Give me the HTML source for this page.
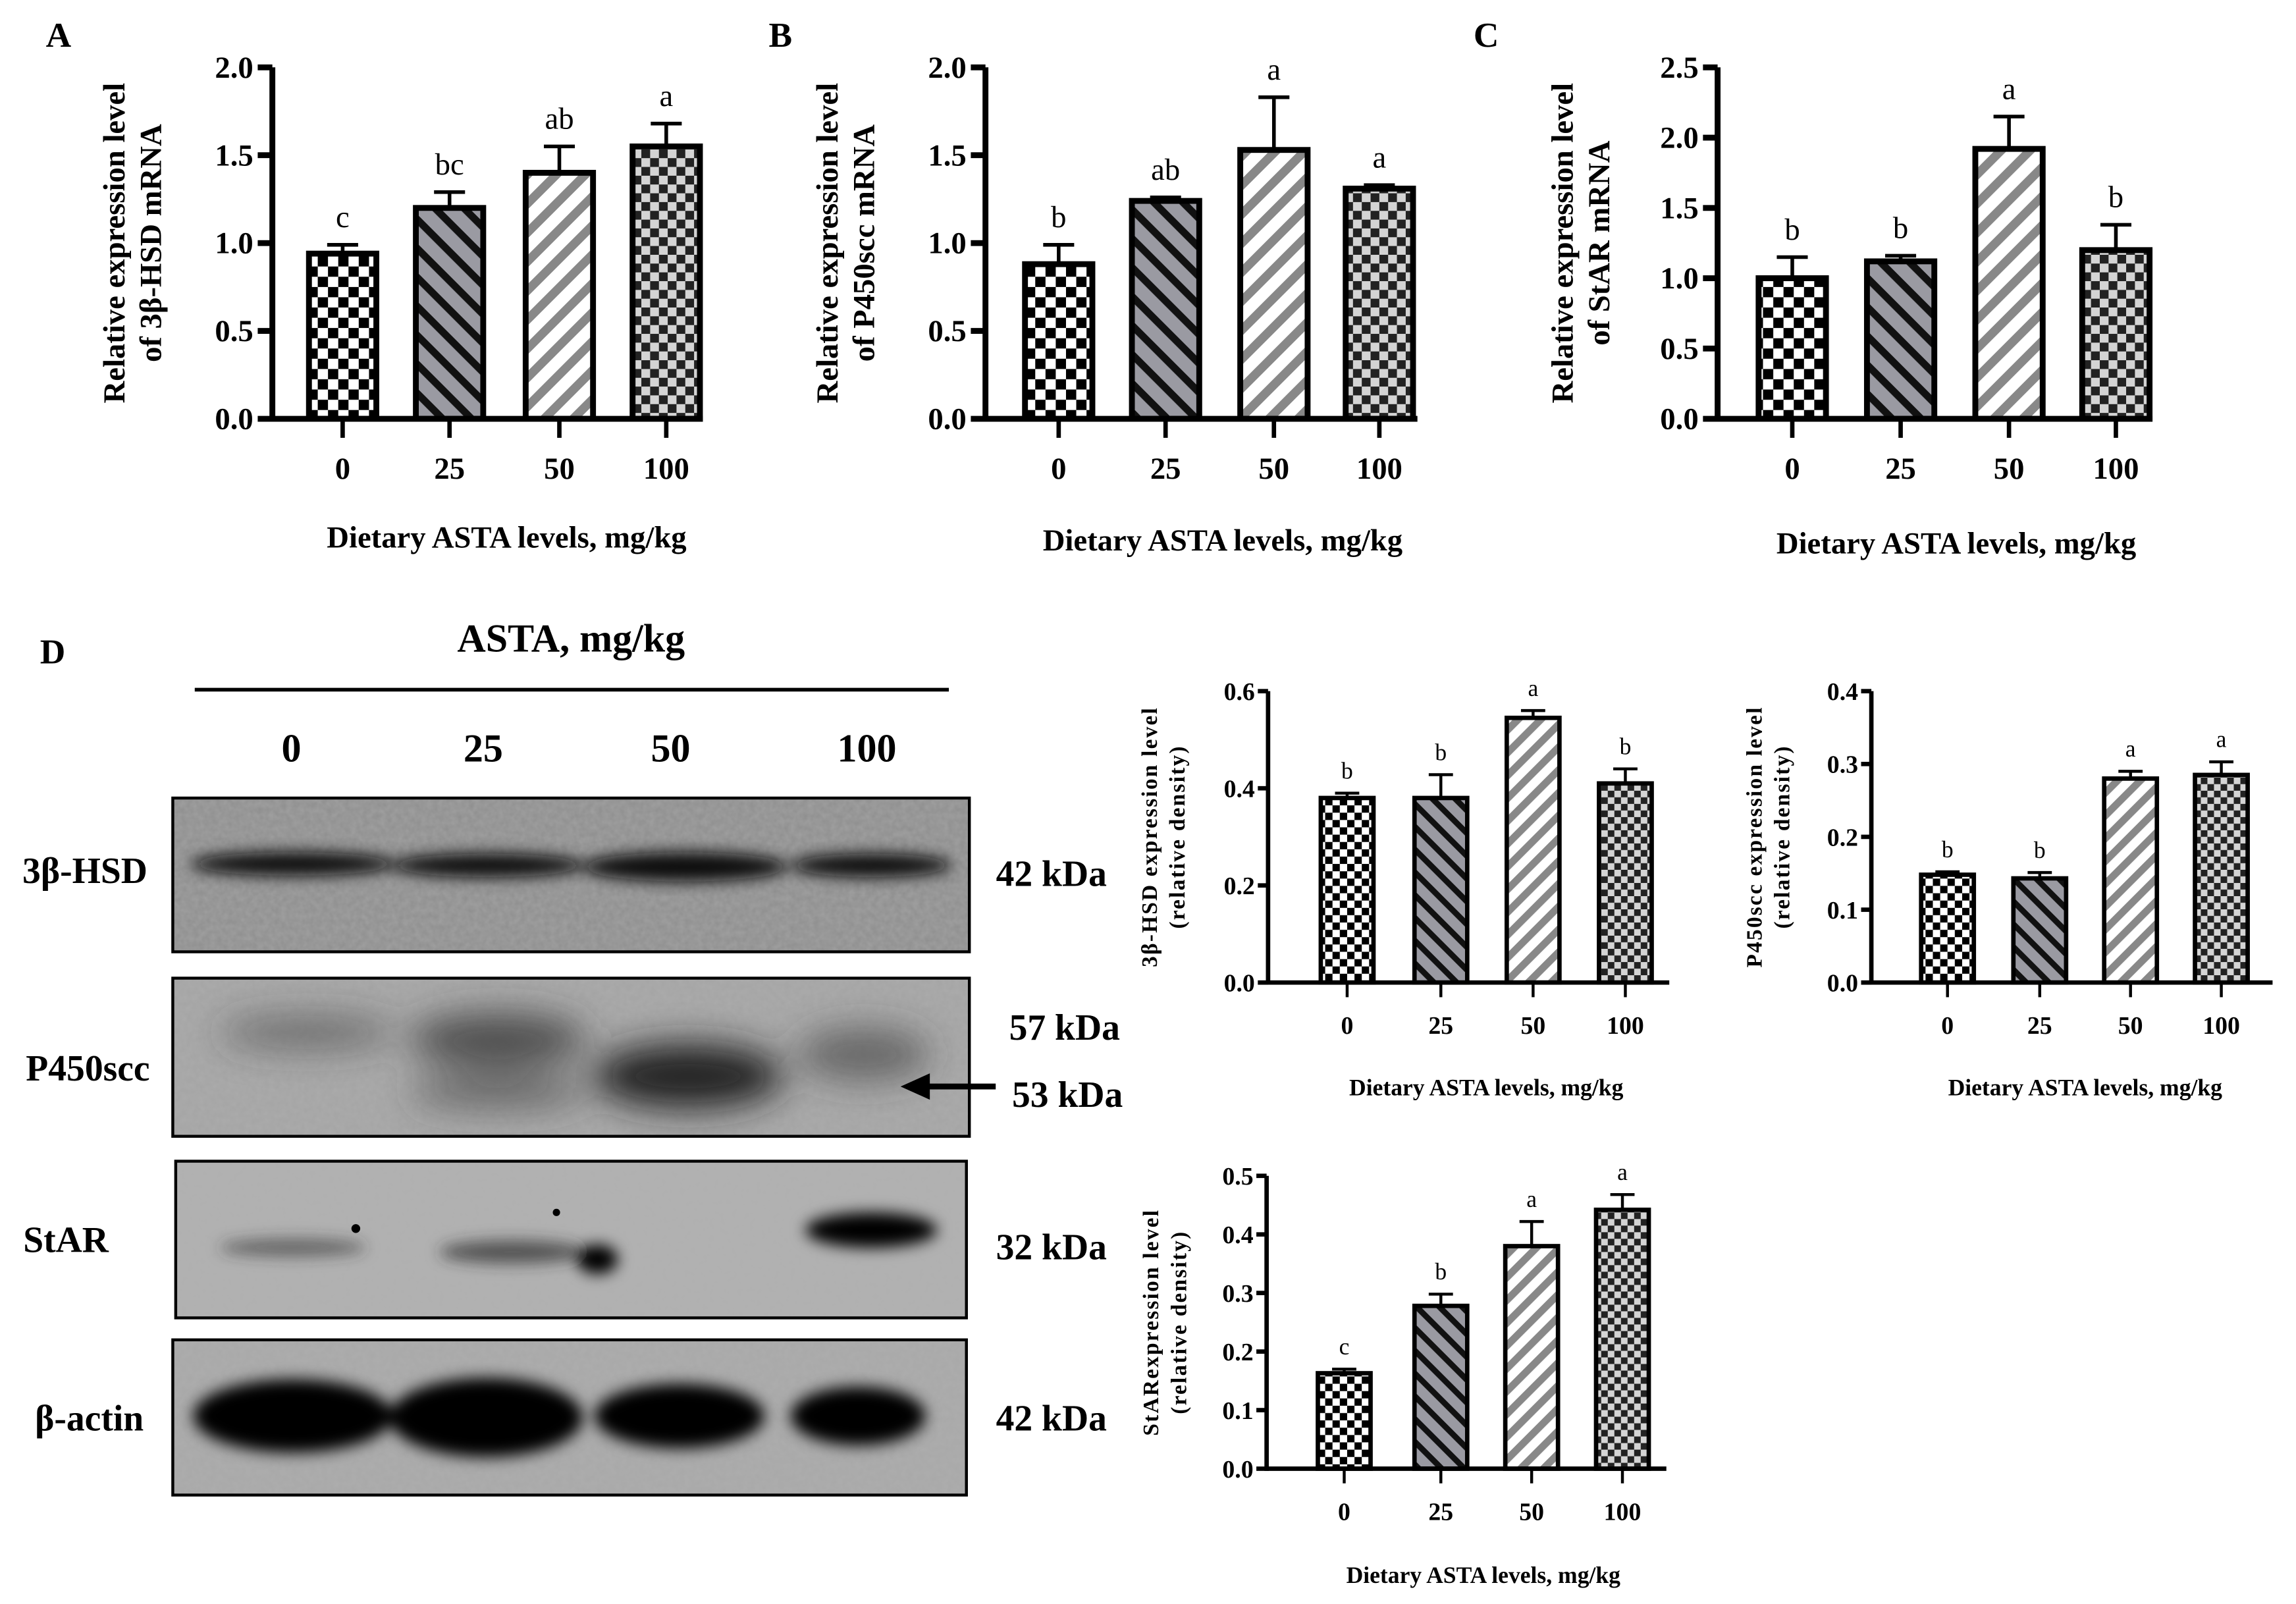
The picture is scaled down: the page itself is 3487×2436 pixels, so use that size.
<!DOCTYPE html>
<html><head><meta charset="utf-8"><style>
html,body{margin:0;padding:0;background:#fff;width:3487px;height:2436px;overflow:hidden}
svg{display:block;font-family:"Liberation Serif",serif}
</style></head><body>
<svg id="fig" width="3487" height="2436" viewBox="0 0 1568 1095.4" xmlns="http://www.w3.org/2000/svg">
<defs>
<pattern id="p0" patternUnits="userSpaceOnUse" width="14" height="14"><rect width="14" height="14" fill="#fff"/><rect width="7" height="7" fill="#000"/><rect x="7" y="7" width="7" height="7" fill="#000"/></pattern>
<pattern id="p1" patternUnits="userSpaceOnUse" width="14" height="14" patternTransform="rotate(45)"><rect width="14" height="14" fill="#9a9aa2"/><rect width="14" height="5" fill="#111"/></pattern>
<pattern id="p2" patternUnits="userSpaceOnUse" width="14" height="14" patternTransform="rotate(-45)"><rect width="14" height="14" fill="#fff"/><rect width="14" height="6" fill="#888"/></pattern>
<pattern id="p3" patternUnits="userSpaceOnUse" width="12" height="12"><rect width="12" height="12" fill="#d4d4d4"/><rect width="6" height="6" fill="#222"/><rect x="6" y="6" width="6" height="6" fill="#222"/></pattern>
<pattern id="sp0" patternUnits="userSpaceOnUse" width="10" height="10"><rect width="10" height="10" fill="#fff"/><rect width="5" height="5" fill="#000"/><rect x="5" y="5" width="5" height="5" fill="#000"/></pattern>
<pattern id="sp1" patternUnits="userSpaceOnUse" width="11" height="11" patternTransform="rotate(45)"><rect width="11" height="11" fill="#9a9aa2"/><rect width="11" height="4" fill="#111"/></pattern>
<pattern id="sp2" patternUnits="userSpaceOnUse" width="11" height="11" patternTransform="rotate(-45)"><rect width="11" height="11" fill="#fff"/><rect width="11" height="5" fill="#888"/></pattern>
<pattern id="sp3" patternUnits="userSpaceOnUse" width="9" height="9"><rect width="9" height="9" fill="#d4d4d4"/><rect width="4.5" height="4.5" fill="#222"/><rect x="4.5" y="4.5" width="4.5" height="4.5" fill="#222"/></pattern>
<filter id="blur" x="-20%" y="-50%" width="140%" height="200%"><feGaussianBlur stdDeviation="5"/></filter>
<filter id="blurBig" x="-20%" y="-50%" width="140%" height="200%"><feGaussianBlur stdDeviation="12"/></filter>
<filter id="noise" x="0" y="0" width="1" height="1"><feTurbulence type="fractalNoise" baseFrequency="0.25" numOctaves="2" seed="3"/><feColorMatrix type="matrix" values="0 0 0 0 0.45  0 0 0 0 0.45  0 0 0 0 0.45  0 0 0 0.5 0"/></filter>
<clipPath id="c1"><rect x="118" y="545" width="544" height="105"/></clipPath>
<clipPath id="c2"><rect x="118" y="668" width="544" height="108"/></clipPath>
<clipPath id="c3"><rect x="120" y="793" width="540" height="107"/></clipPath>
<clipPath id="c4"><rect x="118" y="915" width="542" height="106"/></clipPath>
</defs>
<g id="charts"></g>
<g id="blot">
<text x="36" y="453" font-size="24" font-weight="bold" text-anchor="middle">D</text>
<text x="390" y="445" font-size="27" font-weight="bold" text-anchor="middle">ASTA, mg/kg</text>
<line x1="133" y1="471" x2="648" y2="471" stroke="#000" stroke-width="2.5"/>
<g font-size="27" font-weight="bold" text-anchor="middle">
<text x="199" y="520">0</text>
<text x="330" y="520">25</text>
<text x="458" y="520">50</text>
<text x="592" y="520">100</text>
</g>
<g clip-path="url(#c1)">
<rect x="118" y="545" width="544" height="105" fill="#8e8e8e"/>
<rect x="118" y="545" width="544" height="105" filter="url(#noise)"/>
<g filter="url(#blur)" fill="#0a0a0a">
<ellipse cx="200" cy="590" rx="70" ry="8"/><ellipse cx="333" cy="591" rx="66" ry="8"/><ellipse cx="468" cy="592" rx="70" ry="10"/><ellipse cx="595" cy="591" rx="55" ry="8"/></g>
</g>
<rect x="118" y="545" width="544" height="105" fill="none" stroke="#000" stroke-width="2"/>
<g clip-path="url(#c2)">
<rect x="118" y="668" width="544" height="108" fill="#a4a4a4"/>
<rect x="118" y="668" width="544" height="108" filter="url(#noise)"/>
<g filter="url(#blurBig)" fill="#3a3a3a">
<ellipse cx="210" cy="705" rx="60" ry="12" opacity="0.5"/><ellipse cx="340" cy="710" rx="60" ry="18" opacity="0.8"/><ellipse cx="470" cy="735" rx="65" ry="22" fill="#202020"/><ellipse cx="590" cy="720" rx="45" ry="18" opacity="0.6"/><ellipse cx="340" cy="745" rx="60" ry="12" opacity="0.6"/></g>
</g>
<rect x="118" y="668" width="544" height="108" fill="none" stroke="#000" stroke-width="2"/>
<g clip-path="url(#c3)">
<rect x="120" y="793" width="540" height="107" fill="#b0b0b0"/>
<rect x="120" y="793" width="540" height="107" filter="url(#noise)"/>
<g filter="url(#blur)" fill="#303030">
<ellipse cx="200" cy="852" rx="50" ry="6" opacity="0.6"/><ellipse cx="350" cy="855" rx="50" ry="8" opacity="0.7"/><ellipse cx="408" cy="860" rx="14" ry="10" fill="#000"/><ellipse cx="595" cy="840" rx="45" ry="12" fill="#000"/></g>
<circle cx="243" cy="839" r="3" fill="#000"/><circle cx="380" cy="828" r="2.5" fill="#000"/>
</g>
<rect x="120" y="793" width="540" height="107" fill="none" stroke="#000" stroke-width="2"/>
<g clip-path="url(#c4)">
<rect x="118" y="915" width="542" height="106" fill="#a8a8a8"/>
<rect x="118" y="915" width="542" height="106" filter="url(#noise)"/>
<g filter="url(#blur)" fill="#050505">
<ellipse cx="200" cy="967" rx="68" ry="25"/><ellipse cx="332" cy="968" rx="66" ry="27"/><ellipse cx="464" cy="967" rx="58" ry="22"/><ellipse cx="586" cy="967" rx="46" ry="20"/></g>
</g>
<rect x="118" y="915" width="542" height="106" fill="none" stroke="#000" stroke-width="2"/>
<g font-size="25" font-weight="bold" text-anchor="middle">
<text x="58" y="603">3β-HSD</text>
<text x="60" y="738">P450scc</text>
<text x="45" y="855">StAR</text>
<text x="61" y="977">β-actin</text>
<text x="718" y="605">42 kDa</text>
<text x="727" y="710">57 kDa</text>
<text x="729" y="756">53 kDa</text>
<text x="718" y="860">32 kDa</text>
<text x="718" y="977">42 kDa</text>
</g>
<g>
<line x1="680" y1="742" x2="632" y2="742" stroke="#000" stroke-width="4"/>
<polygon points="615,742 635,733 635,751" fill="#000"/>
</g>
</g>
<script>
// ---- data ----
const categories = ["0","25","50","100"];
const aMeans = [0.94, 1.20, 1.40, 1.55];
const aErr = [0.05, 0.09, 0.15, 0.13];
const aLetters = ["c","bc","ab","a"];
const aTicks = ["0.0","0.5","1.0","1.5","2.0"];
const bMeans = [0.88, 1.24, 1.53, 1.31];
const bErr = [0.11, 0.02, 0.30, 0.02];
const bLetters = ["b","ab","a","a"];
const bTicks = ["0.0","0.5","1.0","1.5","2.0"];
const cMeans = [1.00, 1.12, 1.92, 1.20];
const cErr = [0.15, 0.04, 0.23, 0.18];
const cLetters = ["b","b","a","b"];
const cTicks = ["0.0","0.5","1.0","1.5","2.0","2.5"];
const d1Means = [0.38, 0.38, 0.545, 0.41];
const d1Err = [0.01, 0.048, 0.015, 0.03];
const d1Letters = ["b","b","a","b"];
const d1Ticks = ["0.0","0.2","0.4","0.6"];
const d2Means = [0.148, 0.143, 0.28, 0.285];
const d2Err = [0.004, 0.008, 0.01, 0.018];
const d2Letters = ["b","b","a","a"];
const d2Ticks = ["0.0","0.1","0.2","0.3","0.4"];
const d3Means = [0.163, 0.278, 0.38, 0.442];
const d3Err = [0.007, 0.02, 0.042, 0.026];
const d3Letters = ["c","b","a","a"];
const d3Ticks = ["0.0","0.1","0.2","0.3","0.4","0.5"];

const NS="http://www.w3.org/2000/svg";
const root=document.getElementById('charts');
function mk(tag,attrs,parent){const e=document.createElementNS(NS,tag);for(const k in attrs)e.setAttribute(k,attrs[k]);(parent||root).appendChild(e);return e;}

function chart(cfg){
  const g=mk('g',{});
  
  
  const ticks=cfg.ticks, ymax=parseFloat(ticks[ticks.length-1]);
  const y=v=>cfg.y0-(v/ymax)*(cfg.y0-cfg.yTop);
  const xs=cfg.xs;
  const big=cfg.big;
  const sw=big?4:3;
  cfg.means.forEach((m,i)=>{
    const r=mk('rect',{x:xs[i]-cfg.bw/2,y:y(m),width:cfg.bw,height:cfg.y0-y(m),fill:'url(#'+(big?'p':'sp')+i+')',stroke:'#000','stroke-width':big?4:3},g);
    
    
    const top=y(m+cfg.err[i]);
    const e=mk('path',{d:`M${xs[i]} ${y(m)}V${top}M${xs[i]-cfg.bw*0.23} ${top}H${xs[i]+cfg.bw*0.23}`,stroke:'#000','stroke-width':big?2.5:2,fill:'none'},g);
    
    
    const t=mk('text',{x:xs[i],y:top-(big?12:10),'font-size':big?21:16,'text-anchor':'middle'},g);
    t.textContent=cfg.letters[i];
    
    
    const xt=mk('line',{x1:xs[i],y1:cfg.y0,x2:xs[i],y2:cfg.y0+(big?13:10),stroke:'#000','stroke-width':big?3:2},g);
    
    
    const xl=mk('text',{x:xs[i],y:cfg.y0+(big?41:35),'font-size':big?21:17,'font-weight':'bold','text-anchor':'middle'},g);
    xl.textContent=categories[i];
    
    
  });
  const ya=mk('line',{x1:cfg.ax,y1:cfg.yTop,x2:cfg.ax,y2:cfg.y0+sw/2,stroke:'#000','stroke-width':sw},g);
  
  
  const xa=mk('line',{x1:cfg.ax,y1:cfg.y0,x2:cfg.xEnd,y2:cfg.y0,stroke:'#000','stroke-width':sw},g);
  
  
  ticks.forEach(tk=>{
    const v=parseFloat(tk);
    const l=mk('line',{x1:cfg.ax-(big?10:7),y1:y(v),x2:cfg.ax,y2:y(v),stroke:'#000','stroke-width':sw},g);
    
    
    const t=mk('text',{x:cfg.ax-(big?13:9),y:y(v)+(big?7:6),'font-size':big?21:17,'font-weight':'bold','text-anchor':'end'},g);
    t.textContent=tk;
    
    
  });
  const xt=mk('text',{x:cfg.xTitleX,y:cfg.xTitleY,'font-size':big?21:16,'font-weight':'bold','text-anchor':'middle'},g);
  xt.textContent='Dietary ASTA levels, mg/kg';
  
  
  const yc=(cfg.yTop+cfg.y0)/2;
  cfg.ytitle.forEach((s,k)=>{
    const tx=cfg.ytx[k];
    const t=mk('text',{x:tx,y:yc,'font-size':big?21:15,'font-weight':'bold','text-anchor':'middle','letter-spacing':big?0:1,transform:`rotate(-90 ${tx} ${yc})`},g);
    t.textContent=s;
    
    
  });
  if(cfg.label){
    const t=mk('text',{x:cfg.label[1],y:32,'font-size':24,'font-weight':'bold','text-anchor':'middle'},g);
    t.textContent=cfg.label[0];
    
    
  }
}
chart({name:'chart-a-3b-hsd-mrna',big:true,means:aMeans,err:aErr,letters:aLetters,ticks:aTicks,ax:186,xEnd:480,y0:286,yTop:46,xs:[234,307,382,455],bw:46,xTitleX:346,xTitleY:374,ytitle:['Relative expression level','of 3β-HSD mRNA'],ytx:[85,110],label:['A',40]});
chart({name:'chart-b-p450scc-mrna',big:true,means:bMeans,err:bErr,letters:bLetters,ticks:bTicks,ax:673,xEnd:968,y0:286,yTop:46,xs:[723,796,870,942],bw:46,xTitleX:835,xTitleY:376,ytitle:['Relative expression level','of P450scc mRNA'],ytx:[572,597],label:['B',533]});
chart({name:'chart-c-star-mrna',big:true,means:cMeans,err:cErr,letters:cLetters,ticks:cTicks,ax:1173,xEnd:1470,y0:286,yTop:46,xs:[1224,1298,1372,1445],bw:46,xTitleX:1336,xTitleY:378,ytitle:['Relative expression level','of StAR mRNA'],ytx:[1074,1099],label:['C',1015]});
chart({name:'chart-d-3b-hsd-protein',big:false,means:d1Means,err:d1Err,letters:d1Letters,ticks:d1Ticks,ax:866,xEnd:1140,y0:671,yTop:472,xs:[920,984,1047,1110],bw:36,xTitleX:1015,xTitleY:748,ytitle:['3β-HSD expression level','(relative density)'],ytx:[790,809]});
chart({name:'chart-d-p450scc-protein',big:false,means:d2Means,err:d2Err,letters:d2Letters,ticks:d2Ticks,ax:1278,xEnd:1552,y0:671,yTop:472,xs:[1330,1393,1455,1517],bw:36,xTitleX:1424,xTitleY:748,ytitle:['P450scc expression level','(relative density)'],ytx:[1203,1222]});
chart({name:'chart-d-star-protein',big:false,means:d3Means,err:d3Err,letters:d3Letters,ticks:d3Ticks,ax:865,xEnd:1138,y0:1003,yTop:803,xs:[918,984,1046,1108],bw:36,xTitleX:1013,xTitleY:1081,ytitle:['StARexpression level','(relative density)'],ytx:[791,810]});
</script>
</svg>
</body></html>
